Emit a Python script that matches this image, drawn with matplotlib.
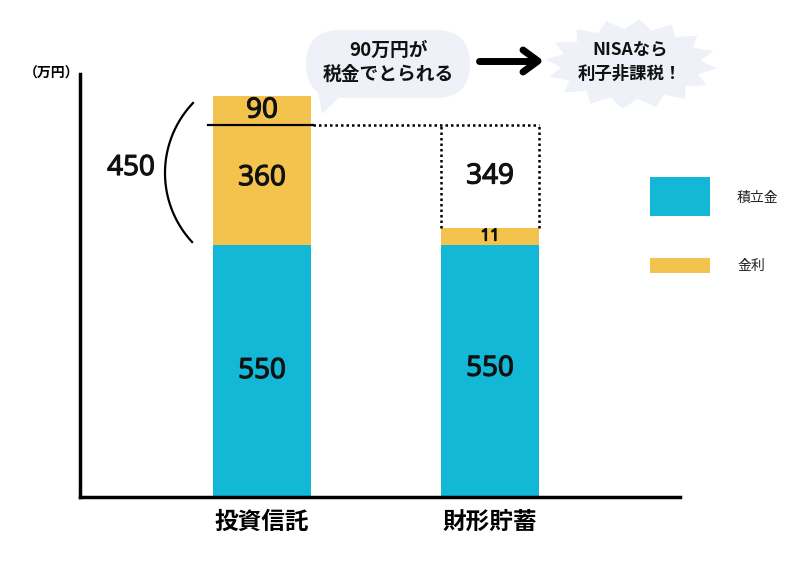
import numpy as np
import matplotlib
matplotlib.use("Agg")
import matplotlib.pyplot as plt
import matplotlib.patheffects as pe
from matplotlib.patches import FancyBboxPatch, Polygon, Rectangle

plt.rcParams['font.family'] = ['Noto Sans CJK JP', 'DejaVu Sans']

# ---- data ----
categories = ['投資信託', '財形貯蓄']
principal = [550, 550]          # 積立金
interest_net = [360, 11]        # 金利 (after tax / actual)
tax = [90, 0]                   # 税金 (投資信託)
gap_vs_fund = [0, 349]          # difference to 投資信託 after tax
bracket_total = 450
legend_labels = ['積立金', '金利']
bubble_text = '90万円が\n税金でとられる'
star_text = 'NISAなら\n利子非課税！'
unit_label = '（万円）'

BLUE = '#12B8D6'
YELLOW = '#F3C34E'
LIGHT = '#EEF2F8'
NUMFONT = ['Open Sans', 'DejaVu Sans']
SEMI = [pe.withStroke(linewidth=0.9, foreground='#111111')]

# ---- figure ----
fig = plt.figure(figsize=(8, 5.69), dpi=100)
W, H = 800, 569
ax = fig.add_axes([80 / W, 1 - 497 / H, 600 / W, 423 / H])

# piecewise scale reproducing the illustration's (non-proportional) heights
v_pts = np.array([0, 550, 561, 910, 1000, 1100])
p_pts = np.array([0, 252, 269, 372, 401, 433])
fwd = lambda v: np.interp(v, v_pts, p_pts)
inv = lambda p: np.interp(p, p_pts, v_pts)
ax.set_yscale('function', functions=(fwd, inv))

x = np.arange(len(categories))
width = 0.43
ax.bar(x, principal, width, color=BLUE, zorder=2)
bottom2 = np.array(principal)
ax.bar(x, interest_net, width, bottom=bottom2, color=YELLOW, zorder=2)
bottom3 = bottom2 + np.array(interest_net)
ax.bar(x[0], tax[0], width, bottom=bottom3[0], color=YELLOW, zorder=2)

ax.set_xlim(-182 / 228, 1 + 190 / 228)
ax.set_ylim(0, 1068.75)

for s in ['top', 'right']:
    ax.spines[s].set_visible(False)
for s in ['left', 'bottom']:
    ax.spines[s].set_linewidth(2.5)
    ax.spines[s].set_color('black')
ax.set_yticks([])
ax.set_xticks(x)
ax.set_xticklabels(categories, fontsize=17, fontweight='bold')
ax.tick_params(axis='x', length=0, pad=9)

lvl = principal[0] + interest_net[0]  # 910
# solid line across fund bar at after-tax level
ax.plot([x[0] - width / 2 - 0.02, x[0] + width / 2 + 0.01], [lvl, lvl],
        color='black', lw=1.6, zorder=3)
# dotted line & box for 財形
ax.plot([x[0] + width / 2 + 0.01, x[1] + width / 2], [lvl, lvl],
        color='black', lw=1.8, ls=(0, (1, 1.2)), zorder=3)
top2 = principal[1] + interest_net[1]
for xx in [x[1] - width / 2, x[1] + width / 2]:
    ax.plot([xx, xx], [top2, lvl], color='black', lw=1.8, ls=(0, (1, 1.2)), zorder=3)

num_kw = dict(ha='center', va='center', color='#111111', family=NUMFONT, path_effects=SEMI)
ax.text(x[0], principal[0] / 2, str(principal[0]), fontsize=20, **num_kw)
ax.text(x[1], principal[1] / 2 + 5, str(principal[1]), fontsize=20, **num_kw)
ax.text(x[0], principal[0] + interest_net[0] * 0.5, str(interest_net[0]), fontsize=20, **num_kw)
ax.text(x[0], lvl + tax[0] * 0.5, str(tax[0]), fontsize=20, **num_kw)
ax.text(x[1], principal[1] + interest_net[1] / 2, str(interest_net[1]), fontsize=12, **num_kw)
ax.text(x[1], (top2 + lvl) / 2, str(gap_vs_fund[1]), fontsize=20, **num_kw)

# ---- overlay in pixel coordinates ----
ov = fig.add_axes([0, 0, 1, 1], zorder=5)
ov.set_xlim(0, W)
ov.set_ylim(H, 0)
ov.axis('off')

ov.text(52, 74, unit_label, ha='center', va='center', fontsize=10, fontweight='bold')

# bracket "(" and 450
cx, cy, r = 266.5, 173, 101.5
a0 = np.arctan2(-70, -73.5)
a1 = np.arctan2(70, -75.5)
t = np.linspace(a0 + 2 * np.pi, a1, 60)
ov.plot(cx + r * np.cos(t), cy + r * np.sin(t), color='black', lw=1.6)
ov.text(131, 168, str(bracket_total), ha='center', va='center', fontsize=20,
        color='#111111', family=NUMFONT, path_effects=SEMI)

# speech bubble
ov.add_patch(FancyBboxPatch((306, 30), 164, 68, boxstyle='round,pad=0,rounding_size=34',
                            fc=LIGHT, ec='none'))
ov.add_patch(Polygon([[316, 80], [345, 92], [322, 114]], closed=True, fc=LIGHT, ec='none'))
ov.text(388, 62, bubble_text, ha='center', va='center', fontsize=13.5, fontweight='bold',
        linespacing=1.35, color='#111111')

# arrow
ov.plot([479, 534], [61, 61], color='black', lw=5, solid_capstyle='round')
ov.plot([523, 538, 523], [50, 61, 72], color='black', lw=5,
        solid_capstyle='round', solid_joinstyle='round')

# starburst
n = 16
ang = np.linspace(0, 2 * np.pi, 2 * n, endpoint=False) + 0.1
rx = np.where(np.arange(2 * n) % 2 == 0, 86, 70)
ry = np.where(np.arange(2 * n) % 2 == 0, 45, 35)
ov.add_patch(Polygon(np.c_[631 + rx * np.cos(ang), 64 + ry * np.sin(ang)],
                     closed=True, fc=LIGHT, ec='none'))
ov.text(630, 62, star_text, ha='center', va='center', fontsize=12.5, fontweight='bold',
        linespacing=1.4, color='#111111')

# legend
ov.add_patch(Rectangle((650, 177), 60, 39, fc=BLUE, ec='none'))
ov.add_patch(Rectangle((650, 258), 60, 15, fc=YELLOW, ec='none'))
ov.text(737, 198, legend_labels[0], ha='left', va='center', fontsize=10, color='#222222')
ov.text(737, 266, legend_labels[1], ha='left', va='center', fontsize=10, color='#222222')

fig.savefig('out.png', dpi=100)
